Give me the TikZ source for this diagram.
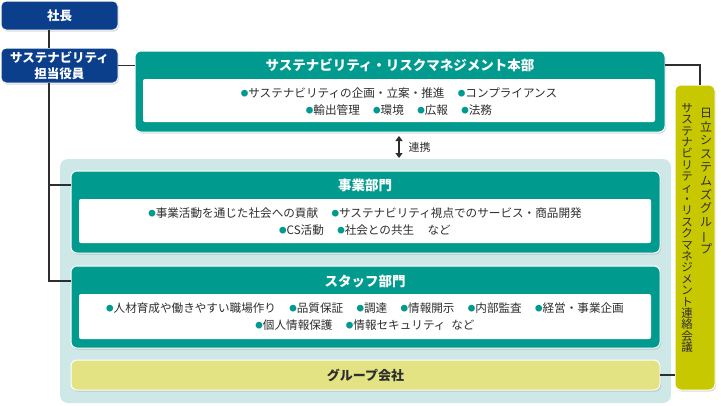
\documentclass[tikz,border=0pt]{standalone}
\usepackage{fontspec}
\setmainfont{Noto Sans CJK JP}
\usetikzlibrary{shadows,arrows.meta}

\definecolor{navy}{HTML}{0B3F8B}
\definecolor{deptteal}{HTML}{009A8E}
\definecolor{zonemint}{HTML}{CDE8E7}
\definecolor{council}{HTML}{C8C800}
\definecolor{cream}{HTML}{E3E384}
\definecolor{inkgray}{HTML}{2E2E2E}

% small teal bullet in front of each item, and the gap between items
\newcommand\blt{\textcolor{deptteal}{\raisebox{1.3pt}{\fontsize{7.5}{7.5}\selectfont ●}}}
\newcommand\gap{\hspace{1.15em}}

\begin{document}
\begin{tikzpicture}
  [x=1pt, y=-1pt,
   soft shadow/.style={drop shadow={opacity=.3, shadow xshift=1pt, shadow yshift=-1.5pt}},
   exec box/.style={fill=navy, draw=white, line width=1pt, rounded corners=5pt,
     inner sep=0pt, outer sep=0pt, anchor=north west, text=white, align=center,
     font=\fontsize{12.5}{16}\selectfont\bfseries, soft shadow},
   dept box/.style={fill=deptteal, draw=white, line width=1pt, rounded corners=6pt,
     inner sep=0pt, outer sep=0pt, anchor=north west, soft shadow},
   dept title/.style={text=white, font=\fontsize{13.5}{15}\selectfont\bfseries},
   item panel/.style={fill=white, rounded corners=2pt, inner sep=0pt,
     outer sep=0pt, anchor=north west},
   item text/.style={text=inkgray, align=center, font=\fontsize{11.6}{17}\selectfont},
   link line/.style={draw=inkgray, line width=1.2pt}]
  \useasboundingbox (0,0) rectangle (721,405);

  % officers
  \node[exec box, minimum width=117pt, minimum height=29pt] (pres) at (1,1) {社長};
  \node[exec box, minimum width=117pt, minimum height=35pt] (officer) at (1,48)
    {サステナビリティ\\担当役員};

  % business area
  \node[fill=zonemint, rounded corners=8pt, inner sep=0pt, outer sep=0pt,
    anchor=north west, minimum width=611pt, minimum height=244pt] (zone) at (60,159) {};

  % headquarters
  \node[dept box, minimum width=530pt, minimum height=81pt] (hq) at (135,51) {};
  \node[dept title] (hq title) at (400,65) {サステナビリティ・リスクマネジメント本部};
  \node[item panel, minimum width=512pt, minimum height=43pt] (hq panel) at (143,79) {};
  \node[item text] (hq items) at (399,101.5)
    {\blt サステナビリティの企画・立案・推進\gap\blt コンプライアンス\\
     \blt 輸出管理\gap\blt 環境\gap\blt 広報\gap\blt 法務};

  % business division
  \node[dept box, minimum width=589pt, minimum height=82pt] (biz) at (71,171) {};
  \node[dept title] (biz title) at (365,185) {事業部門};
  \node[item panel, minimum width=572pt, minimum height=44pt] (biz panel) at (79,199) {};
  \node[item text] (biz items) at (365,221.5)
    {\blt 事業活動を通じた社会への貢献\gap\blt サステナビリティ視点でのサービス・商品開発\\
     \blt CS活動\gap\blt 社会との共生\gap など};

  % staff division
  \node[dept box, minimum width=589pt, minimum height=82pt] (staff) at (71,266) {};
  \node[dept title] (staff title) at (365,281) {スタッフ部門};
  \node[item panel, minimum width=572pt, minimum height=45pt] (staff panel) at (79,294) {};
  \node[item text] (staff items) at (365,316.5)
    {\blt 人材育成や働きやすい職場作り\gap\blt 品質保証\gap\blt 調達\gap\blt 情報開示\gap\blt 内部監査\gap\blt 経営・事業企画\\
     \blt 個人情報保護\gap\blt 情報セキュリティ\enspace など};

  % group companies
  \node[fill=cream, draw=white, line width=1pt, rounded corners=6pt, inner sep=0pt,
    outer sep=0pt, anchor=north west, minimum width=589pt, minimum height=30pt,
    soft shadow, text=inkgray, font=\fontsize{13}{15}\selectfont\bfseries] (group) at (71,360)
    {グループ会社};

  % liaison council
  \node[fill=council, draw=white, line width=1pt, rounded corners=6pt, inner sep=0pt,
    outer sep=0pt, anchor=north west, minimum width=40pt, minimum height=305pt,
    soft shadow] (council) at (675,85) {};
  \node[text=inkgray, align=center, font=\fontsize{12}{13.6}\selectfont] (council name) at (706,181)
    {日\\立\\シ\\ス\\テ\\ム\\ズ\\グ\\ル\\\rotatebox[origin=c]{90}{ー}\\プ};
  \node[text=inkgray, align=center, font=\fontsize{11.5}{11.4}\selectfont] (council body) at (687,228)
    {サ\\ス\\テ\\ナ\\ビ\\リ\\テ\\ィ\\・\\リ\\ス\\ク\\マ\\ネ\\ジ\\メ\\ン\\ト\\連\\絡\\会\\議};

  % connectors
  \coordinate (spine) at (49,0);
  \coordinate (link) at (399,147);
  \draw[link line] (pres.south -| spine) -- (officer.north -| spine);
  \draw[link line] (officer.south -| spine) |- (biz.west |- biz title);
  \draw[link line] (officer.south -| spine) |- (staff.west |- staff title);
  \draw[link line] (officer.east) -- (officer.east -| hq.west);
  \draw[link line] (hq.east |- hq title) -| ([xshift=5pt]council.north);
  \draw[link line] (group.east) -- (group.east -| council.west);
  \draw[link line, line width=1.5pt, {Triangle[length=5pt,width=7pt]}-{Triangle[length=5pt,width=7pt]},
    shorten <=4pt, shorten >=1pt] (hq.south -| link) -- (zone.north -| link);
  \node[anchor=west, text=inkgray, font=\fontsize{11}{13}\selectfont] (link label) at (405,147) {連携};
\end{tikzpicture}
\end{document}
